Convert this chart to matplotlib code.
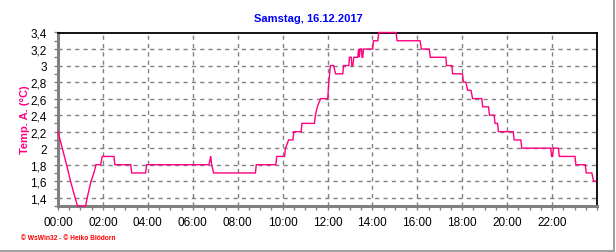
import matplotlib
matplotlib.use("Agg")
import matplotlib.pyplot as plt
from matplotlib.ticker import MultipleLocator, FuncFormatter
from matplotlib.lines import Line2D

# Outside temperature (hours since midnight, deg C)
hours = [
    0.00, 0.19, 0.38, 0.56, 0.76, 0.87, 1.23, 1.30, 1.47, 1.60, 1.69,
    1.90, 1.97, 2.49, 2.53, 3.24, 3.28, 3.90, 3.95,
    6.72, 6.76, 6.80, 6.84, 6.93, 8.79, 8.83,
    9.70, 9.74, 10.09, 10.13, 10.27, 10.46, 10.50, 10.83, 10.86,
    11.42, 11.46, 11.55, 11.69, 12.01, 12.06, 12.13, 12.27, 12.36,
    12.68, 12.72, 12.95, 12.98, 13.06, 13.08, 13.13, 13.17, 13.35,
    13.38, 13.42, 13.45, 13.51, 13.54, 13.57, 13.60, 14.01, 14.05,
    14.24, 14.28, 15.05, 15.10, 16.12, 16.18, 16.53, 16.58,
    17.27, 17.30, 17.54, 17.57, 18.01, 18.05, 18.16, 18.24, 18.39,
    18.46, 18.87, 18.91, 19.17, 19.21, 19.42, 19.46, 19.57, 19.61,
    20.27, 20.31, 20.61, 20.65, 21.94, 21.98, 22.02, 22.06, 22.28,
    22.32, 23.02, 23.06, 23.48, 23.52, 23.77, 23.85, 23.93,
]
temps = [
    2.2, 2.0, 1.8, 1.6, 1.4, 1.3, 1.3, 1.4, 1.6, 1.7, 1.8,
    1.8, 1.9, 1.9, 1.8, 1.8, 1.7, 1.7, 1.8,
    1.8, 1.85, 1.9, 1.8, 1.7, 1.7, 1.8,
    1.8, 1.9, 1.9, 2.0, 2.1, 2.1, 2.2, 2.2, 2.3,
    2.3, 2.4, 2.5, 2.6, 2.6, 2.8, 3.0, 3.0, 2.9,
    2.9, 3.0, 3.0, 3.1, 3.1, 3.0, 3.0, 3.1, 3.1,
    3.2, 3.1, 3.2, 3.2, 3.1, 3.1, 3.2, 3.2, 3.3,
    3.3, 3.4, 3.4, 3.3, 3.3, 3.2, 3.2, 3.1,
    3.1, 3.0, 3.0, 2.9, 2.9, 2.8, 2.8, 2.7, 2.7,
    2.6, 2.6, 2.5, 2.5, 2.4, 2.4, 2.3, 2.3, 2.2,
    2.2, 2.1, 2.1, 2.0, 2.0, 1.9, 1.9, 2.0, 2.0,
    1.9, 1.9, 1.8, 1.8, 1.7, 1.7, 1.6, 1.6,
]

title = "Samstag, 16.12.2017"
y_label = "Temp. A. (°C)"
footer = "© WsWin32 - © Heiko Blödorn"

plt.rcParams["font.family"] = ["Liberation Sans", "DejaVu Sans"]

fig = plt.figure(figsize=(6.16, 2.53), dpi=100)
ax = fig.add_axes([58 / 616, 1 - 207 / 253, 539 / 616, 173.5 / 253])

ax.plot(hours, temps, color="#ff0080", lw=1.0, solid_joinstyle="miter",
        clip_on=False, zorder=5)

ax.set_xlim(0, 24)
ax.set_ylim(1.3, 3.4)

ax.xaxis.set_major_locator(MultipleLocator(2))
ax.xaxis.set_minor_locator(MultipleLocator(0.5))
ax.xaxis.set_major_formatter(FuncFormatter(lambda x, p: "" if x >= 24 else f"{int(x):02d}:00"))
ax.yaxis.set_major_locator(MultipleLocator(0.2))
ax.yaxis.set_minor_locator(MultipleLocator(0.1))
ax.yaxis.set_major_formatter(FuncFormatter(
    lambda y, p: "" if y < 1.35 else f"{y:.1f}".rstrip("0").rstrip(".").replace(".", ",")))

ax.grid(True, which="major", color="#808080", linestyle=(0, (3, 3)), lw=1.0)
ax.tick_params(which="both", direction="out", colors="#808080", labelcolor="black",
               labelsize=8.5, length=3, width=1)
ax.tick_params(axis="x", pad=4)
ax.tick_params(axis="y", pad=5)

for side in ("left", "bottom"):
    ax.spines[side].set_color("#808080")
    ax.spines[side].set_linewidth(2.2)
for side in ("top", "right"):
    ax.spines[side].set_color("black")
    ax.spines[side].set_linewidth(1.3)

fig.text(0.5, 1 - 19 / 253, title, ha="center", va="center",
         color="#0000ff", fontsize=8, fontweight="bold")
fig.text(25 / 616, 1 - 120 / 253, y_label, ha="center", va="center", rotation=90,
         color="#ff0080", fontsize=8, fontweight="bold")
fig.text(21 / 616, 1 - 239 / 253, footer, ha="left", va="center",
         color="#ff0000", fontsize=4.8, fontweight="bold")

# window-like frame on the right and bottom edge
fig.add_artist(Line2D([613.5 / 616, 613.5 / 616], [1 - 251.5 / 253, 1], color="#a0a0a0", lw=1.5))
fig.add_artist(Line2D([0, 613.5 / 616], [1 - 251.5 / 253, 1 - 251.5 / 253], color="#a0a0a0", lw=1.5))

fig.savefig("out.png", dpi=100)
